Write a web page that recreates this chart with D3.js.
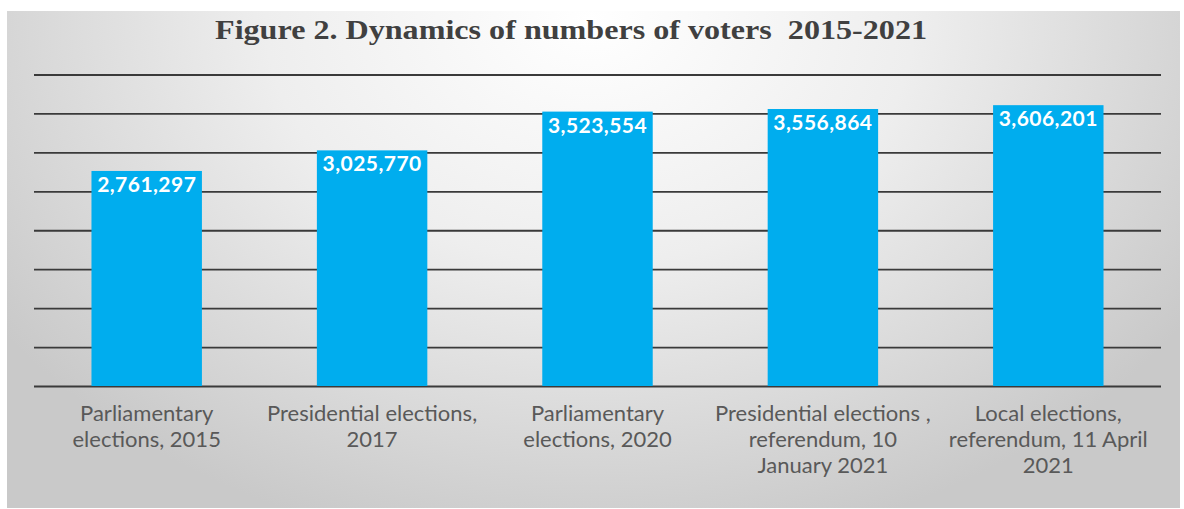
<!DOCTYPE html>
<html>
<head>
<meta charset="utf-8">
<script src="https://cdn.jsdelivr.net/npm/d3@7/dist/d3.min.js"></script>
<style>
  html, body { margin: 0; padding: 0; background: #ffffff; }
  svg { display: block; }
</style>
</head>
<body>
<svg id="chart" width="1184" height="509"></svg>
<script>
// Registered voters per election
const categories = [
  ["Parliamentary", "elections, 2015"],
  ["Presidential elections,", "2017"],
  ["Parliamentary", "elections, 2020"],
  ["Presidential elections ,", "referendum, 10", "January 2021"],
  ["Local elections,", "referendum, 11 April", "2021"]
];
const voters = [2761297, 3025770, 3523554, 3556864, 3606201];
const gridTicks = [0, 500000, 1000000, 1500000, 2000000, 2500000, 3000000, 3500000, 4000000];
const title = "Figure 2. Dynamics of numbers of voters\u00a0 2015-2021";

const frame = { x: 7, y: 11, w: 1173, h: 497 };
const plot = { left: 34, right: 1161, top: 74.5, bottom: 386 };

const svg = d3.select("#chart");
const defs = svg.append("defs");

// soft grey backdrop, brightest near the title
const grad = defs.append("radialGradient")
  .attr("id", "bg")
  .attr("gradientUnits", "userSpaceOnUse")
  .attr("cx", 590).attr("cy", 20)
  .attr("r", 720)
  .attr("gradientTransform", "translate(590,20) scale(1,0.75) translate(-590,-20)");
grad.append("stop").attr("offset", "0%").attr("stop-color", "#ffffff");
grad.append("stop").attr("offset", "45%").attr("stop-color", "#eeeeee");
grad.append("stop").attr("offset", "100%").attr("stop-color", "#c9c9c9");

svg.append("rect")
  .attr("x", frame.x).attr("y", frame.y)
  .attr("width", frame.w).attr("height", frame.h)
  .attr("fill", "url(#bg)");

const x = d3.scaleBand()
  .domain(d3.range(voters.length))
  .range([plot.left, plot.right])
  .paddingInner(0.51)
  .paddingOuter(0.255);

const y = d3.scaleLinear()
  .domain([0, 4000000])
  .range([plot.bottom, plot.top]);

// horizontal gridlines
const grid = svg.append("g")
  .attr("transform", `translate(${plot.left},0)`)
  .call(d3.axisLeft(y)
    .tickValues(gridTicks)
    .tickSize(-(plot.right - plot.left))
    .tickFormat(""));
grid.select(".domain").remove();
grid.selectAll(".tick line")
  .attr("stroke", "#3a3a3a")
  .attr("stroke-width", 1.8);

// bars
svg.append("g").selectAll("rect")
  .data(voters)
  .join("rect")
  .attr("x", (d, i) => x(i))
  .attr("y", d => y(d))
  .attr("width", x.bandwidth())
  .attr("height", d => y(0) - y(d))
  .attr("fill", "#00adee");

// value labels inside the bar tops
const fmt = d3.format(",");
svg.append("g").selectAll("text")
  .data(voters)
  .join("text")
  .attr("x", (d, i) => x(i) + x.bandwidth() / 2)
  .attr("y", d => y(d) + 21)
  .attr("text-anchor", "middle")
  .attr("font-family", "Lato, 'Open Sans', sans-serif")
  .attr("font-weight", 700)
  .attr("font-size", 21)
  .attr("letter-spacing", 0.45)
  .attr("fill", "#ffffff")
  .text(d => fmt(d));

// category labels
const catG = svg.append("g")
  .attr("font-family", "Lato, 'Open Sans', sans-serif")
  .attr("font-size", 22)
  .attr("fill", "#595959")
  .attr("text-anchor", "middle");
categories.forEach((lines, i) => {
  const cx = x(i) + x.bandwidth() / 2;
  const t = catG.append("text")
    .attr("x", cx)
    .attr("y", 421);
  lines.forEach((ln, k) => {
    t.append("tspan")
      .attr("x", cx)
      .attr("dy", k === 0 ? 0 : 26)
      .text(ln);
  });
});

// title, set slightly wide
svg.append("text")
  .attr("transform", "translate(571,38.5) scale(1.19,1)")
  .attr("text-anchor", "middle")
  .attr("font-family", "'Liberation Serif', 'Times New Roman', serif")
  .attr("font-weight", 700)
  .attr("font-size", 27)
  .attr("fill", "#404040")
  .text(title);
</script>
</body>
</html>
